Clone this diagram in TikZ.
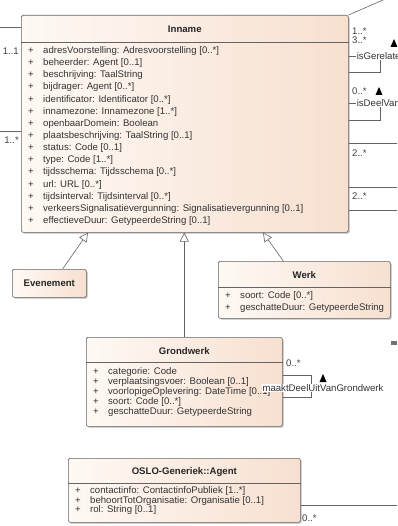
\documentclass[tikz,border=0pt]{standalone}
\usepackage{fontspec}
\setmainfont{Liberation Sans}
\usetikzlibrary{positioning,arrows.meta,shadows}
\definecolor{classLeft}{RGB}{254,249,244}
\definecolor{classRight}{RGB}{247,224,208}
\definecolor{lineColor}{RGB}{100,100,100}
\tikzstyle{diagram} = [x=1pt, y=-1pt, font=\fontsize{9.6}{10}\selectfont]
\tikzstyle{classBox} = [draw=lineColor, line width=.6pt, left color=classLeft, right color=classRight, rounded corners=1.5pt, anchor=north west, inner sep=0pt, drop shadow={shadow xshift=1.5pt, shadow yshift=-1.5pt, fill=black!35, opacity=.5}]
\tikzstyle{classTitle} = [font=\fontsize{9.6}{10}\selectfont\bfseries, text=black!85, inner sep=0pt]
\tikzstyle{attrText} = [anchor=west, inner sep=0pt, text=black!80]
\tikzstyle{separator} = [draw=lineColor, line width=.6pt]
\tikzstyle{assoc} = [draw=lineColor, line width=.6pt]
\tikzstyle{generalization} = [assoc, -{Triangle[open, length=9pt, width=9pt, fill=white]}]
\tikzstyle{roleText} = [anchor=west, inner sep=.6pt, fill=white, text=black!80]
\tikzstyle{multText} = [anchor=west, inner sep=0pt, text=black!75]
\newcommand{\umlClass}[6]{\node [classBox, minimum width=#4pt, minimum height=#5pt] (#1) at (#2,#3) {};
  \node [classTitle] (#1Title) at ([yshift=-14pt]#1.north) {#6};}
\newcommand{\umlSeparator}[2]{\draw [separator] ([yshift=-#2pt]#1.north west) -- ([yshift=-#2pt]#1.north east);}
\newcommand{\umlAttributes}[4]{
  \foreach \txt [count=\i from 0] in {#4} {
    \pgfmathsetmacro{\yy}{#2 + #3 * \i}
    \node [attrText] (#1Attr\i) at ([xshift=7pt, yshift=-\yy pt]#1.north west) {\makebox[15pt][l]{+}\txt};
  }
}
\newcommand{\navArrow}[2]{\fill [black] (#1 - 3.5, #2) -- (#1, #2 - 8) -- (#1 + 3.5, #2) -- cycle;}

\begin{document}
\begin{tikzpicture}[diagram]
  \fill [white] (0,0) rectangle (397,526);
  \useasboundingbox (0,0) rectangle (397,526);
  \clip (0,0) rectangle (397,526);

  \coordinate (leftStubA) at (0,27);
  \coordinate (leftStubB) at (0,131);
  \coordinate (topStub) at (383,0);
  \coordinate (rightStubA) at (397,143);
  \coordinate (rightStubB) at (397,187);
  \coordinate (rightStubC) at (397,210);
  \coordinate (agentStub) at (397,505);

  \umlClass{inname}{21}{15}{327}{217}{Inname}
  \umlSeparator{inname}{27}
  \umlAttributes{inname}{36}{12.15}{adresVoorstelling: Adresvoorstelling [0..*], beheerder: Agent [0..1], beschrijving: TaalString, bijdrager: Agent [0..*], identificator: Identificator [0..*], innamezone: Innamezone [1..*], openbaarDomein: Boolean, plaatsbeschrijving: TaalString [0..1], status: Code [0..1], type: Code [1..*], tijdsschema: Tijdsschema [0..*], url: URL [0..*], tijdsinterval: Tijdsinterval [0..*], verkeersSignalisatievergunning: Signalisatievergunning [0..1], effectieveDuur: GetypeerdeString [0..1]}

  \umlClass{evenement}{12}{269}{74}{28}{Evenement}

  \umlClass{werk}{218}{261}{172}{57}{Werk}
  \umlSeparator{werk}{26}
  \umlAttributes{werk}{35}{12}{soort: Code [0..*], geschatteDuur: GetypeerdeString}

  \umlClass{grondwerk}{86}{337}{196}{89}{Grondwerk}
  \umlSeparator{grondwerk}{25}
  \umlAttributes{grondwerk}{35}{10}{categorie: Code, verplaatsingsvoer: Boolean [0..1], voorlopigeOplevering: DateTime [0..1], soort: Code [0..*], geschatteDuur: GetypeerdeString}

  \umlClass{agent}{68}{458}{232}{64}{OSLO-Generiek::Agent}
  \umlSeparator{agent}{25}
  \umlAttributes{agent}{33}{9.7}{contactinfo: ContactinfoPubliek [1..*], behoortTotOrganisatie: Organisatie [0..1], rol: String [0..1]}

  \draw [generalization] ([xshift=-24pt]evenement.north east) -- ([xshift=67pt]inname.south west);
  \draw [generalization] (grondwerk.north) -- (grondwerk.north |- inname.south);
  \draw [generalization] ([xshift=-21pt]werk.north) -- ([xshift=242pt]inname.south west);

  \draw [assoc] (inname.west |- leftStubA) -- (leftStubA);
  \draw [assoc] (inname.west |- leftStubB) -- (leftStubB);
  \node [multText, anchor=east] (multLeftA) at (19,51) {1..1};
  \node [multText, anchor=east] (multLeftB) at (19,140) {1..*};

  \draw [assoc] (inname.north east) -- (topStub);
  \node [multText] (multTopA) at (352,31) {1..*};
  \node [multText] (multTopB) at (352,40) {3..*};
  \draw [assoc] (inname.east |- 0,56) -- ++(32,0) |- (inname.east |- 0,72);
  \node [roleText] (relGerelateerd) at (356,56) {isGerelateerdAan};
  \navArrow{394}{47}

  \node [multText] (multDeelA) at (352,91) {0..*};
  \navArrow{379}{95}
  \draw [assoc] (inname.east |- 0,103) -- ++(32,0) |- (inname.east |- 0,120);
  \node [roleText] (relDeelVan) at (356,103) {isDeelVan};

  \draw [assoc] (inname.east |- rightStubA) -- (rightStubA);
  \node [multText] (multRightA) at (352,153) {2..*};
  \draw [assoc] (inname.east |- rightStubB) -- (rightStubB);
  \node [multText] (multRightB) at (352,196) {2..*};
  \draw [assoc] (inname.east |- rightStubC) -- (rightStubC);

  \node [multText] (multGrondwerk) at (286,363) {0..*};
  \draw [assoc] (grondwerk.east |- 0,375) -- ++(29,0) |- (grondwerk.east |- 0,397);
  \node [roleText, anchor=center] (relMaaktDeel) at (323,388) {maaktDeelUitVanGrondwerk};
  \navArrow{323}{382}

  \fill [black!55] (391,341) rectangle (397,345);

  \draw [assoc] (agent.east |- agentStub) -- (agentStub);
  \node [multText] (multAgent) at (302,518) {0..*};
\end{tikzpicture}
\end{document}
